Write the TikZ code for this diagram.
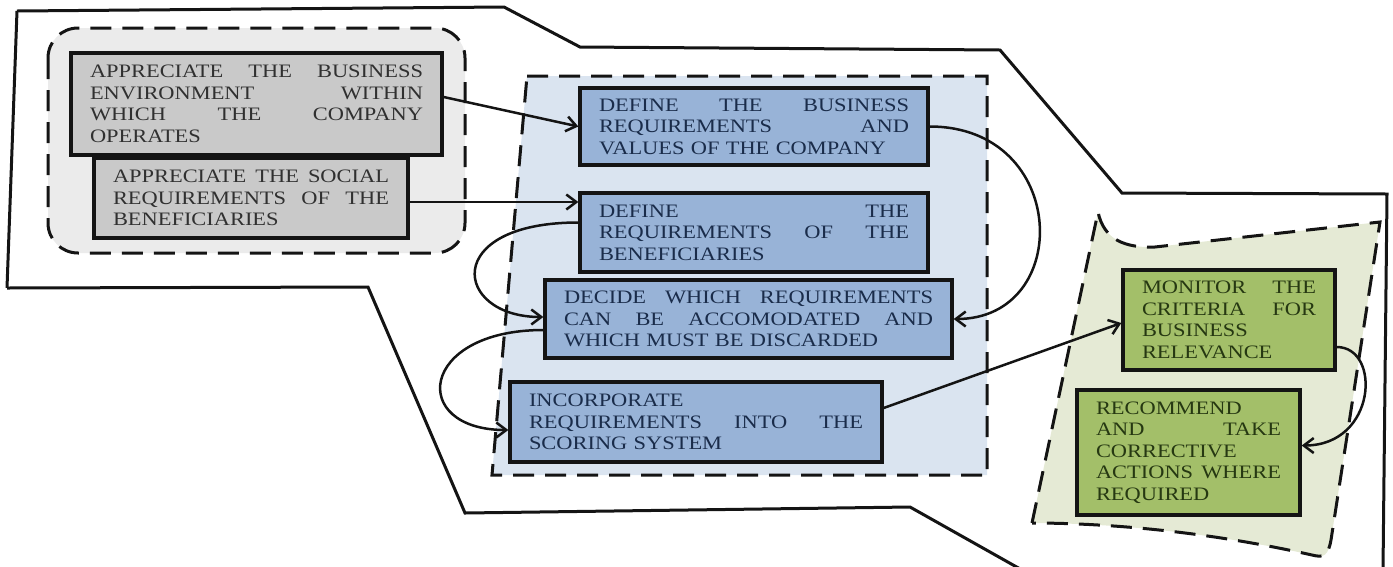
\documentclass[tikz,border=0pt]{standalone}
\usepackage{fontspec}
\newfontfamily\boxfont{Liberation Serif}[FakeStretch=1.18]
\usetikzlibrary{arrows.meta,calc}

\definecolor{edge}{HTML}{141414}
\definecolor{grayzone}{HTML}{EBEBEB}
\definecolor{grayfill}{HTML}{C9C9C9}
\definecolor{graytext}{HTML}{303030}
\definecolor{bluezone}{HTML}{DAE4F0}
\definecolor{bluefill}{HTML}{98B3D7}
\definecolor{bluetext}{HTML}{1A2C4A}
\definecolor{greenzone}{HTML}{E5EAD5}
\definecolor{greenfill}{HTML}{A3BF69}
\definecolor{greentext}{HTML}{263812}

\begin{document}
\begin{tikzpicture}[x=1pt,y=-1pt,
  outline/.style={draw=edge, line width=3pt, line join=miter},
  zone/.style={draw=edge, line width=3pt, dash pattern=on 21pt off 11pt},
  box/.style={draw=edge, line width=3.3pt, inner xsep=19pt, inner ysep=0pt,
    align=left, font=\boxfont\fontsize{19}{21.5}\selectfont},
  graybox/.style={box, fill=grayfill, text=graytext},
  bluebox/.style={box, fill=bluefill, text=bluetext},
  greenbox/.style={box, fill=greenfill, text=greentext},
  conn/.style={draw=edge, line width=2.5pt, -{Straight Barb[length=10pt,width=15pt]}}]

\useasboundingbox (0,0) rectangle (1393,566);

% outer boundary
\draw[outline] (17,11) -- (504,7) -- (580,47) -- (1000,50) -- (1122,193)
  -- (1387,194) -- (1383,570);
\draw[outline] (7,288) -- (17,11);
\draw[outline] (7,288) -- (368,287) -- (465,513) -- (910,507) -- (1022,570);

% grouping zones
\draw[zone, fill=grayzone, rounded corners=30pt] (48,28) rectangle (465,253);
\draw[zone, fill=bluezone] (527,76) -- (987,76) -- (987,475) -- (492,475) -- cycle;
\draw[zone, fill=greenzone] (1032,523) -- (1098,212)
  .. controls (1104,240) and (1125,248) .. (1155,247) -- (1380,222)
  -- (1331,540) .. controls (1328,556) and (1324,558) .. (1312,555)
  .. controls (1200,530) and (1100,523) .. cycle;

% left group
\node[graybox, text width=333pt, minimum height=102pt] (g1) at (256.5,104)
  {APPRECIATE\hfill THE\hfill BUSINESS\\ENVIRONMENT\hfill WITHIN\\WHICH\hfill THE\hfill COMPANY\\OPERATES};
\node[graybox, text width=276pt, minimum height=80pt] (g2) at (251,198)
  {APPRECIATE\hfill THE\hfill SOCIAL\\REQUIREMENTS\hfill OF\hfill THE\\BENEFICIARIES};

% middle group
\node[bluebox, text width=310pt, minimum height=77pt] (b1) at (754,126.5)
  {DEFINE\hfill THE\hfill BUSINESS\\REQUIREMENTS\hfill AND\\VALUES OF THE COMPANY};
\node[bluebox, text width=310pt, minimum height=79pt] (b2) at (754,232.5)
  {DEFINE\hfill THE\\REQUIREMENTS\hfill OF\hfill THE\\BENEFICIARIES};
\node[bluebox, text width=369pt, minimum height=78pt] (b3) at (748.5,319)
  {DECIDE\hfill WHICH\hfill REQUIREMENTS\\CAN\hfill BE\hfill ACCOMODATED\hfill AND\\WHICH MUST BE DISCARDED};
\node[bluebox, text width=334pt, minimum height=80pt] (b4) at (696,422)
  {INCORPORATE\\REQUIREMENTS\hfill INTO\hfill THE\\SCORING SYSTEM};

% right group
\node[greenbox, text width=174pt, minimum height=100pt] (r1) at (1229,320)
  {MONITOR\hfill THE\\CRITERIA\hfill FOR\\BUSINESS\\RELEVANCE};
\node[greenbox, text width=185pt, minimum height=125pt] (r2) at (1188.5,452.5)
  {RECOMMEND\\AND\hfill TAKE\\CORRECTIVE\\ACTIONS\hfill WHERE\\REQUIRED};

% connectors
\coordinate (g1out) at ([yshift=7pt]g1.east);
\coordinate (g2out) at ([yshift=-4pt]g2.east);
\coordinate (b2out) at ([yshift=10pt]b2.west);
\coordinate (b3inL) at ([yshift=2pt]b3.west);
\coordinate (b3out) at ([yshift=-11pt]b3.west);
\coordinate (b4in) at ([yshift=-8pt]b4.west);
\coordinate (b4out) at ([yshift=14pt]b4.east);
\coordinate (r1in) at ([yshift=-3pt]r1.west);
\coordinate (r1out) at ([yshift=-27pt]r1.east);
\coordinate (r2in) at ([yshift=7pt]r2.east);

\draw[conn] (g1out) -- (b1.west);
\draw[conn] (g2out) -- (g2out -| b2.west);
\draw[conn] (b1.east) .. controls ($(b1.east)+(140,0)$) and ($(b3.east)+(120,0)$) .. (b3.east);
\draw[conn] (b2out) .. controls ($(b2out)+(-138,0)$) and ($(b3inL)+(-90,0)$) .. (b3inL);
\draw[conn] (b3out) .. controls ($(b3out)+(-125,0)$) and ($(b4in)+(-100,0)$) .. (b4in);
\draw[conn] (b4out) -- (r1in);
\draw[conn] (r1out) .. controls ($(r1out)+(45,0)$) and ($(r2in)+(75,0)$) .. (r2in);
\end{tikzpicture}
\end{document}
